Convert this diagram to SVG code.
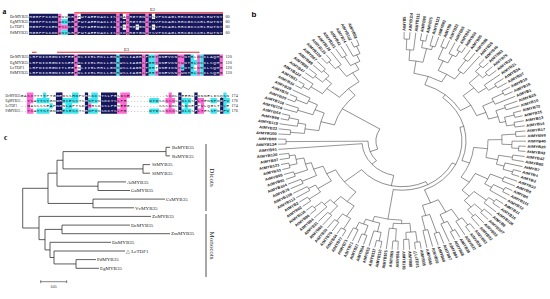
<svg xmlns="http://www.w3.org/2000/svg" xmlns:xlink="http://www.w3.org/1999/xlink" width="550" height="299" viewBox="0 0 550 299">
<style>
.pl{font:bold 7.5px "Liberation Serif",serif;fill:#000}
.plb{font:bold 8px "Liberation Sans",sans-serif;fill:#000}
.nm{font:4.2px "Liberation Serif",serif;fill:#222}
.nm3{font:3.4px "Liberation Serif",serif;fill:#222}
.sq text{font:4.4px "Liberation Mono",monospace;letter-spacing:.593px}
.sq3 text{font:4.4px "Liberation Mono",monospace;letter-spacing:.58px}
.num{font:4.2px "Liberation Serif",serif;fill:#222}
.el{font:4.5px "Liberation Serif",serif;fill:#222}
.red{stroke:#e3262e;stroke-width:1.1;fill:none}
.pk{fill:#ff6ad5}
.cy{fill:#3ee6f0}
.nv{fill:#16165c}
.br line,.br circle{fill:none;stroke:#262626;stroke-width:.5}
.t{font:bold 4.2px "Liberation Sans",sans-serif;fill:#1a1a1a}
.l{text-anchor:end}
.ct{fill:none;stroke:#333;stroke-width:.8}
.cl{font:5px "Liberation Serif",serif;fill:#222}
.grp{font:7px "Liberation Serif",serif;fill:#222}
</style>
<defs>
<g id="s1" class="sq">
<text x="29.3" y="17.7">MGRPPCCDKENVKRGPWTAEEDAKLISYIAQHGTGNWTSVPKKAGLRRCGKSCRLRWTNY</text>
<text x="29.3" y="23">MGRPPCCDKANVKRGPWTAEEDAKLISYIEQHGTGNWTSVPKKAGLRRCGKSCRLRWTNY</text>
<text x="29.3" y="28.3">MGRPPCCEKESLKRGPWTAEEDAKLIAYISKHGTGNWTSVPKKAGLRRCGKSCRLRWTNY</text>
<text x="29.3" y="33.6">MGRPPCCDKANVKRGPWTAEEDAKLISYIDQHGTGNWTSVPKKAGLRRCGKSCRLRWTNY</text>
</g>
<g id="s2" class="sq">
<text x="29.3" y="58.4">LRPDIKRGNISPEEEDLIIRLHKLLGNRWSLIAGRLPGRTDNEVKNHWNTRLKKKLAQMG</text>
<text x="29.3" y="63.7">LRPDIKRGNISSEEEDLIIRLHKLLGNRWSLIAGRLPGRTDNEVKNYWNTRLKKKLSQMG</text>
<text x="29.3" y="69">LRPDIKRGNITLEEEDLIIRLHRLLGNRWSLIAGRLPGRTDNEIKNYWNTRLKRKLSQMG</text>
<text x="29.3" y="74.3">LRPDIKRGNISSEEEDLIIRLHKLLGNRWSLIAGRLPGRTDNEVKNYWNTRLKKKLSQMG</text>
</g>
<g id="s3" class="sq3">
<text x="20.79" y="96.5">GASITTTTPTGGEDSSHDPVRSKCSTSLPRSDSE...........SSDLCEERLPDNNELDSQSN</text>
<text x="20.79" y="101.8">..TSATTSTGNGRGSESSTSHDPVKSKCTSLPR.......DTDSCSSSSEDLCSFLTENNPDGFV</text>
<text x="20.79" y="107.1">..GASSSSEAPNGNLAPTSDPHRSKCSLPRDEEG.........SSSCDLSSNNEFPVLQGSTSLE</text>
<text x="20.79" y="112.4">..TSATTSTGNGRESESSTSHDPVKSKCTSLPR.......DTDSCSSSSEDLCSFLTESSPDGFV</text>
</g>
<clipPath id="cp1"><use xlink:href="#nv1"/></clipPath>
<clipPath id="cp2"><use xlink:href="#nv2"/></clipPath>
<clipPath id="cp3"><use xlink:href="#nv3"/></clipPath>
</defs>
<rect width="550" height="299" fill="#fff"/>

<g id="panel-a">
<text class="pl" x="2.5" y="14">a</text>
<g id="motif-labels">
<text class="el" x="150" y="11.3">E2</text>
<text class="el" x="124" y="50.5">E3</text>
<path class="red" d="M74.3 12.9H223M32 52.3H36.5M57 52.3H199.5"/>
</g>
<g id="block1">
<path class="pk" d="M58.097 13.8h3.233v21.2h-3.233zM61.33 24.4h6.466v5.3h-6.466zM74.262 13.8h3.233v21.2h-3.233zM116.291 13.8h3.233v21.2h-3.233zM125.99 13.8h3.233v21.2h-3.233zM145.388 13.8h3.233v21.2h-3.233z"/>
<path class="cy" d="M61.33 19.1h6.466v5.3h-6.466zM61.33 29.7h6.466v5.3h-6.466z"/>
<use xlink:href="#s1" fill="#111"/>
<path id="nv1" class="nv" fill-rule="evenodd" clip-rule="evenodd" d="M29 13.8h193.98v21.2h-193.98zM58.097 13.8h3.233v21.2h-3.233zM61.33 13.8h6.466v21.2h-6.466zM74.262 13.8h3.233v21.2h-3.233zM77.495 13.8h3.233v5.3h-3.233zM116.291 13.8h3.233v21.2h-3.233zM122.757 13.8h3.233v5.3h-3.233zM122.757 24.4h3.233v5.3h-3.233zM125.99 13.8h3.233v21.2h-3.233zM135.689 24.4h3.233v5.3h-3.233zM145.388 13.8h3.233v21.2h-3.233zM151.854 13.8h3.233v5.3h-3.233zM151.854 24.4h3.233v5.3h-3.233z"/>
<g clip-path="url(#cp1)"><use xlink:href="#s1" fill="#fff"/></g>
<text class="nm" x="10" y="17.7">DcMYB35</text>
<text class="nm" x="10" y="23">EgMYB35</text>
<text class="nm" x="10" y="28.3">LcTDF1</text>
<text class="nm" x="10" y="33.6">PdMYB35</text>
<text class="num" x="225.5" y="17.7">60</text>
<text class="num" x="225.5" y="23">60</text>
<text class="num" x="225.5" y="28.3">60</text>
<text class="num" x="225.5" y="33.6">60</text>
</g>
<g id="block2">
<path class="pk" d="M74.262 54.5h3.233v21.2h-3.233zM142.155 54.5h3.233v21.2h-3.233zM155.087 54.5h3.233v10.6h-3.233zM155.087 70.4h3.233v5.3h-3.233zM177.718 54.5h3.233v21.2h-3.233zM180.951 54.5h3.233v10.6h-3.233zM197.116 54.5h3.233v21.2h-3.233zM219.747 54.5h3.233v21.2h-3.233z"/>
<path class="cy" d="M116.291 54.5h3.233v21.2h-3.233zM148.621 54.5h6.466v21.2h-6.466zM180.951 65.1h3.233v5.3h-3.233zM190.65 54.5h3.233v21.2h-3.233zM193.883 59.8h3.233v5.3h-3.233zM193.883 70.4h3.233v5.3h-3.233zM200.349 54.5h3.233v21.2h-3.233z"/>
<use xlink:href="#s2" fill="#111"/>
<path id="nv2" class="nv" fill-rule="evenodd" clip-rule="evenodd" d="M29 54.5h193.98v21.2h-193.98zM74.262 54.5h3.233v21.2h-3.233zM77.495 65.1h3.233v5.3h-3.233zM116.291 54.5h3.233v21.2h-3.233zM142.155 54.5h3.233v21.2h-3.233zM148.621 54.5h9.699v21.2h-9.699zM177.718 54.5h3.233v21.2h-3.233zM180.951 54.5h3.233v15.9h-3.233zM190.65 54.5h12.932v21.2h-12.932zM219.747 54.5h3.233v21.2h-3.233z"/>
<g clip-path="url(#cp2)"><use xlink:href="#s2" fill="#fff"/></g>
<text class="nm" x="10" y="58.4">DcMYB35</text>
<text class="nm" x="10" y="63.7">EgMYB35</text>
<text class="nm" x="10" y="69">LcTDF1</text>
<text class="nm" x="10" y="74.3">PdMYB35</text>
<text class="num" x="225.5" y="58.4">120</text>
<text class="num" x="225.5" y="63.7">120</text>
<text class="num" x="225.5" y="69">120</text>
<text class="num" x="225.5" y="74.3">120</text>
</g>
<g id="block3">
<path class="pk" d="M26.94 92.6h6.44v5.3h-6.44zM59.14 92.6h3.22v5.3h-3.22zM120.32 92.6h9.66v5.3h-9.66zM168.62 92.6h3.22v5.3h-3.22zM26.94 97.9h6.44v5.3h-6.44zM59.14 97.9h3.22v5.3h-3.22zM117.1 97.9h9.66v5.3h-9.66zM165.4 97.9h9.66v5.3h-9.66zM197.6 97.9h6.44v5.3h-6.44zM26.94 103.2h3.22v5.3h-3.22zM88.12 103.2h3.22v5.3h-3.22zM120.32 103.2h6.44v5.3h-6.44zM168.62 103.2h3.22v5.3h-3.22zM200.82 103.2h3.22v5.3h-3.22zM26.94 108.5h6.44v5.3h-6.44zM59.14 108.5h3.22v5.3h-3.22zM117.1 108.5h9.66v5.3h-9.66zM165.4 108.5h9.66v5.3h-9.66zM197.6 108.5h6.44v5.3h-6.44z"/>
<path class="cy" d="M43.04 92.6h3.22v5.3h-3.22zM72.02 92.6h6.44v5.3h-6.44zM91.34 92.6h6.44v5.3h-6.44zM223.36 92.6h3.22v5.3h-3.22zM36.6 97.9h12.88v5.3h-12.88zM62.36 97.9h16.1v5.3h-16.1zM88.12 97.9h9.66v5.3h-9.66zM149.3 97.9h9.66v5.3h-9.66zM181.5 97.9h9.66v5.3h-9.66zM210.48 97.9h6.44v5.3h-6.44zM223.36 97.9h6.44v5.3h-6.44zM49.48 103.2h3.22v5.3h-3.22zM65.58 103.2h6.44v5.3h-6.44zM184.72 103.2h3.22v5.3h-3.22zM223.36 103.2h3.22v5.3h-3.22zM36.6 108.5h12.88v5.3h-12.88zM62.36 108.5h16.1v5.3h-16.1zM88.12 108.5h9.66v5.3h-9.66zM149.3 108.5h9.66v5.3h-9.66zM181.5 108.5h9.66v5.3h-9.66zM210.48 108.5h6.44v5.3h-6.44zM223.36 108.5h6.44v5.3h-6.44z"/>
<use xlink:href="#s3" fill="#111"/>
<path id="nv3" class="nv" d="M55.92 92.6h6.44v21.2h-6.44zM84.9 92.6h3.22v21.2h-3.22zM101 92.6h6.44v21.2h-6.44zM107.44 92.6h9.66v21.2h-9.66zM178.28 92.6h3.22v21.2h-3.22zM194.38 92.6h3.22v21.2h-3.22zM220.14 97.9h3.22v15.9h-3.22z"/>
<g clip-path="url(#cp3)"><use xlink:href="#s3" fill="#fff"/></g>
<text class="nm3" x="5.5" y="96.5">DcMYB35</text>
<text class="nm3" x="5.5" y="101.8">EgMYB35</text>
<text class="nm3" x="5.5" y="107.1">LcTDF1</text>
<text class="nm3" x="5.5" y="112.4">PdMYB35</text>
<text class="num" x="231.5" y="96.5">174</text>
<text class="num" x="231.5" y="101.8">176</text>
<text class="num" x="231.5" y="107.1">174</text>
<text class="num" x="231.5" y="112.4">176</text>
</g>
</g>

<g id="panel-b">
<text class="plb" x="251.5" y="17">b</text>
<g transform="translate(402 141) scale(1 .879)">
<g id="b-connectors" class="br">
<circle r="116" transform="rotate(-89)" stroke-dasharray="5.466 999"/>
<line x1="116" x2="124" transform="rotate(-89)"/>
<line x1="116" x2="124" transform="rotate(-86.3)"/>
<circle r="104" transform="rotate(-87.65)" stroke-dasharray="7.351 999"/>
<line x1="104" x2="116" transform="rotate(-87.65)"/>
<line x1="104" x2="124" transform="rotate(-83.6)"/>
<circle r="116" transform="rotate(-80.9)" stroke-dasharray="5.466 999"/>
<line x1="116" x2="124" transform="rotate(-80.9)"/>
<line x1="116" x2="124" transform="rotate(-78.2)"/>
<circle r="112" transform="rotate(-75.5)" stroke-dasharray="5.278 999"/>
<line x1="112" x2="124" transform="rotate(-75.5)"/>
<line x1="112" x2="124" transform="rotate(-72.8)"/>
<circle r="108" transform="rotate(-79.55)" stroke-dasharray="10.179 999"/>
<line x1="108" x2="116" transform="rotate(-79.55)"/>
<line x1="108" x2="112" transform="rotate(-74.15)"/>
<circle r="92" transform="rotate(-85.625)" stroke-dasharray="14.09 999"/>
<line x1="92" x2="104" transform="rotate(-85.625)"/>
<line x1="92" x2="108" transform="rotate(-76.85)"/>
<circle r="114" transform="rotate(-70.1)" stroke-dasharray="5.372 999"/>
<line x1="114" x2="124" transform="rotate(-70.1)"/>
<line x1="114" x2="124" transform="rotate(-67.4)"/>
<circle r="117" transform="rotate(-62)" stroke-dasharray="5.514 999"/>
<line x1="117" x2="124" transform="rotate(-62)"/>
<line x1="117" x2="124" transform="rotate(-59.3)"/>
<circle r="110" transform="rotate(-64.7)" stroke-dasharray="7.775 999"/>
<line x1="110" x2="124" transform="rotate(-64.7)"/>
<line x1="110" x2="117" transform="rotate(-60.65)"/>
<circle r="100" transform="rotate(-68.75)" stroke-dasharray="10.603 999"/>
<line x1="100" x2="114" transform="rotate(-68.75)"/>
<line x1="100" x2="110" transform="rotate(-62.675)"/>
<circle r="112" transform="rotate(-56.6)" stroke-dasharray="5.278 999"/>
<line x1="112" x2="124" transform="rotate(-56.6)"/>
<line x1="112" x2="124" transform="rotate(-53.9)"/>
<circle r="98" transform="rotate(-55.25)" stroke-dasharray="6.927 999"/>
<line x1="98" x2="112" transform="rotate(-55.25)"/>
<line x1="98" x2="124" transform="rotate(-51.2)"/>
<circle r="88" transform="rotate(-65.713)" stroke-dasharray="19.179 999"/>
<line x1="88" x2="100" transform="rotate(-65.713)"/>
<line x1="88" x2="98" transform="rotate(-53.225)"/>
<circle r="78" transform="rotate(-81.238)" stroke-dasharray="29.635 999"/>
<line x1="78" x2="92" transform="rotate(-81.238)"/>
<line x1="78" x2="88" transform="rotate(-59.469)"/>
<circle r="116" transform="rotate(-48.5)" stroke-dasharray="5.466 999"/>
<line x1="116" x2="124" transform="rotate(-48.5)"/>
<line x1="116" x2="124" transform="rotate(-45.8)"/>
<circle r="114" transform="rotate(-43.1)" stroke-dasharray="5.372 999"/>
<line x1="114" x2="124" transform="rotate(-43.1)"/>
<line x1="114" x2="124" transform="rotate(-40.4)"/>
<circle r="108" transform="rotate(-47.15)" stroke-dasharray="10.179 999"/>
<line x1="108" x2="116" transform="rotate(-47.15)"/>
<line x1="108" x2="114" transform="rotate(-41.75)"/>
<circle r="113" transform="rotate(-35)" stroke-dasharray="5.325 999"/>
<line x1="113" x2="124" transform="rotate(-35)"/>
<line x1="113" x2="124" transform="rotate(-32.3)"/>
<circle r="104" transform="rotate(-37.7)" stroke-dasharray="7.351 999"/>
<line x1="104" x2="124" transform="rotate(-37.7)"/>
<line x1="104" x2="113" transform="rotate(-33.65)"/>
<circle r="94" transform="rotate(-44.45)" stroke-dasharray="14.396 999"/>
<line x1="94" x2="108" transform="rotate(-44.45)"/>
<line x1="94" x2="104" transform="rotate(-35.675)"/>
<circle r="115" transform="rotate(-29.6)" stroke-dasharray="5.419 999"/>
<line x1="115" x2="124" transform="rotate(-29.6)"/>
<line x1="115" x2="124" transform="rotate(-26.9)"/>
<circle r="102" transform="rotate(-28.25)" stroke-dasharray="7.21 999"/>
<line x1="102" x2="115" transform="rotate(-28.25)"/>
<line x1="102" x2="124" transform="rotate(-24.2)"/>
<circle r="110" transform="rotate(-21.5)" stroke-dasharray="5.184 999"/>
<line x1="110" x2="124" transform="rotate(-21.5)"/>
<line x1="110" x2="124" transform="rotate(-18.8)"/>
<circle r="116" transform="rotate(-16.1)" stroke-dasharray="5.466 999"/>
<line x1="116" x2="124" transform="rotate(-16.1)"/>
<line x1="116" x2="124" transform="rotate(-13.4)"/>
<circle r="114" transform="rotate(-10.7)" stroke-dasharray="5.372 999"/>
<line x1="114" x2="124" transform="rotate(-10.7)"/>
<line x1="114" x2="124" transform="rotate(-8)"/>
<circle r="106" transform="rotate(-14.75)" stroke-dasharray="9.99 999"/>
<line x1="106" x2="116" transform="rotate(-14.75)"/>
<line x1="106" x2="114" transform="rotate(-9.35)"/>
<circle r="100" transform="rotate(-20.15)" stroke-dasharray="14.137 999"/>
<line x1="100" x2="110" transform="rotate(-20.15)"/>
<line x1="100" x2="106" transform="rotate(-12.05)"/>
<circle r="90" transform="rotate(-26.225)" stroke-dasharray="15.904 999"/>
<line x1="90" x2="102" transform="rotate(-26.225)"/>
<line x1="90" x2="100" transform="rotate(-16.1)"/>
<circle r="80" transform="rotate(-40.063)" stroke-dasharray="26.389 999"/>
<line x1="80" x2="94" transform="rotate(-40.063)"/>
<line x1="80" x2="90" transform="rotate(-21.163)"/>
<circle r="68" transform="rotate(-70.353)" stroke-dasharray="47.165 999"/>
<line x1="68" x2="78" transform="rotate(-70.353)"/>
<line x1="68" x2="80" transform="rotate(-30.613)"/>
<circle r="114" transform="rotate(-5.3)" stroke-dasharray="5.372 999"/>
<line x1="114" x2="124" transform="rotate(-5.3)"/>
<line x1="114" x2="124" transform="rotate(-2.6)"/>
<circle r="117" transform="rotate(2.8)" stroke-dasharray="5.514 999"/>
<line x1="117" x2="124" transform="rotate(2.8)"/>
<line x1="117" x2="124" transform="rotate(5.5)"/>
<circle r="110" transform="rotate(0.1)" stroke-dasharray="7.775 999"/>
<line x1="110" x2="124" transform="rotate(0.1)"/>
<line x1="110" x2="117" transform="rotate(4.15)"/>
<circle r="100" transform="rotate(-3.95)" stroke-dasharray="10.603 999"/>
<line x1="100" x2="114" transform="rotate(-3.95)"/>
<line x1="100" x2="110" transform="rotate(2.125)"/>
<circle r="112" transform="rotate(8.2)" stroke-dasharray="5.278 999"/>
<line x1="112" x2="124" transform="rotate(8.2)"/>
<line x1="112" x2="124" transform="rotate(10.9)"/>
<circle r="116" transform="rotate(16.3)" stroke-dasharray="5.466 999"/>
<line x1="116" x2="124" transform="rotate(16.3)"/>
<line x1="116" x2="124" transform="rotate(19)"/>
<circle r="106" transform="rotate(13.6)" stroke-dasharray="7.493 999"/>
<line x1="106" x2="124" transform="rotate(13.6)"/>
<line x1="106" x2="116" transform="rotate(17.65)"/>
<circle r="98" transform="rotate(9.55)" stroke-dasharray="10.391 999"/>
<line x1="98" x2="112" transform="rotate(9.55)"/>
<line x1="98" x2="106" transform="rotate(15.625)"/>
<circle r="86" transform="rotate(-0.913)" stroke-dasharray="20.263 999"/>
<line x1="86" x2="100" transform="rotate(-0.913)"/>
<line x1="86" x2="98" transform="rotate(12.588)"/>
<circle r="110" transform="rotate(21.7)" stroke-dasharray="5.184 999"/>
<line x1="110" x2="124" transform="rotate(21.7)"/>
<line x1="110" x2="124" transform="rotate(24.4)"/>
<circle r="116" transform="rotate(27.1)" stroke-dasharray="5.466 999"/>
<line x1="116" x2="124" transform="rotate(27.1)"/>
<line x1="116" x2="124" transform="rotate(29.8)"/>
<circle r="104" transform="rotate(28.45)" stroke-dasharray="7.351 999"/>
<line x1="104" x2="116" transform="rotate(28.45)"/>
<line x1="104" x2="124" transform="rotate(32.5)"/>
<circle r="96" transform="rotate(23.05)" stroke-dasharray="12.441 999"/>
<line x1="96" x2="110" transform="rotate(23.05)"/>
<line x1="96" x2="104" transform="rotate(30.475)"/>
<circle r="115" transform="rotate(35.2)" stroke-dasharray="5.419 999"/>
<line x1="115" x2="124" transform="rotate(35.2)"/>
<line x1="115" x2="124" transform="rotate(37.9)"/>
<circle r="108" transform="rotate(36.55)" stroke-dasharray="7.634 999"/>
<line x1="108" x2="115" transform="rotate(36.55)"/>
<line x1="108" x2="124" transform="rotate(40.6)"/>
<circle r="113" transform="rotate(43.3)" stroke-dasharray="5.325 999"/>
<line x1="113" x2="124" transform="rotate(43.3)"/>
<line x1="113" x2="124" transform="rotate(46)"/>
<circle r="111" transform="rotate(48.7)" stroke-dasharray="5.231 999"/>
<line x1="111" x2="124" transform="rotate(48.7)"/>
<line x1="111" x2="124" transform="rotate(51.4)"/>
<circle r="102" transform="rotate(44.65)" stroke-dasharray="9.613 999"/>
<line x1="102" x2="113" transform="rotate(44.65)"/>
<line x1="102" x2="111" transform="rotate(50.05)"/>
<circle r="92" transform="rotate(38.575)" stroke-dasharray="14.09 999"/>
<line x1="92" x2="108" transform="rotate(38.575)"/>
<line x1="92" x2="102" transform="rotate(47.35)"/>
<circle r="82" transform="rotate(26.763)" stroke-dasharray="23.185 999"/>
<line x1="82" x2="96" transform="rotate(26.763)"/>
<line x1="82" x2="92" transform="rotate(42.963)"/>
<circle r="72" transform="rotate(5.838)" stroke-dasharray="36.474 999"/>
<line x1="72" x2="86" transform="rotate(5.838)"/>
<line x1="72" x2="82" transform="rotate(34.863)"/>
<circle r="116" transform="rotate(54.1)" stroke-dasharray="5.466 999"/>
<line x1="116" x2="124" transform="rotate(54.1)"/>
<line x1="116" x2="124" transform="rotate(56.8)"/>
<circle r="106" transform="rotate(55.45)" stroke-dasharray="7.493 999"/>
<line x1="106" x2="116" transform="rotate(55.45)"/>
<line x1="106" x2="124" transform="rotate(59.5)"/>
<circle r="114" transform="rotate(62.2)" stroke-dasharray="5.372 999"/>
<line x1="114" x2="124" transform="rotate(62.2)"/>
<line x1="114" x2="124" transform="rotate(64.9)"/>
<circle r="102" transform="rotate(63.55)" stroke-dasharray="7.21 999"/>
<line x1="102" x2="114" transform="rotate(63.55)"/>
<line x1="102" x2="124" transform="rotate(67.6)"/>
<circle r="92" transform="rotate(57.475)" stroke-dasharray="13.006 999"/>
<line x1="92" x2="106" transform="rotate(57.475)"/>
<line x1="92" x2="102" transform="rotate(65.575)"/>
<circle r="110" transform="rotate(70.3)" stroke-dasharray="5.184 999"/>
<line x1="110" x2="124" transform="rotate(70.3)"/>
<line x1="110" x2="124" transform="rotate(73)"/>
<circle r="104" transform="rotate(75.7)" stroke-dasharray="4.901 999"/>
<line x1="104" x2="124" transform="rotate(75.7)"/>
<line x1="104" x2="124" transform="rotate(78.4)"/>
<circle r="88" transform="rotate(71.65)" stroke-dasharray="8.294 999"/>
<line x1="88" x2="110" transform="rotate(71.65)"/>
<line x1="88" x2="104" transform="rotate(77.05)"/>
<circle r="76" transform="rotate(61.525)" stroke-dasharray="17.012 999"/>
<line x1="76" x2="92" transform="rotate(61.525)"/>
<line x1="76" x2="88" transform="rotate(74.35)"/>
<circle r="116" transform="rotate(81.1)" stroke-dasharray="5.466 999"/>
<line x1="116" x2="124" transform="rotate(81.1)"/>
<line x1="116" x2="124" transform="rotate(83.8)"/>
<circle r="112" transform="rotate(86.5)" stroke-dasharray="5.278 999"/>
<line x1="112" x2="124" transform="rotate(86.5)"/>
<line x1="112" x2="124" transform="rotate(89.2)"/>
<circle r="104" transform="rotate(82.45)" stroke-dasharray="9.802 999"/>
<line x1="104" x2="116" transform="rotate(82.45)"/>
<line x1="104" x2="112" transform="rotate(87.85)"/>
<circle r="114" transform="rotate(91.9)" stroke-dasharray="5.372 999"/>
<line x1="114" x2="124" transform="rotate(91.9)"/>
<line x1="114" x2="124" transform="rotate(94.6)"/>
<circle r="100" transform="rotate(93.25)" stroke-dasharray="7.069 999"/>
<line x1="100" x2="114" transform="rotate(93.25)"/>
<line x1="100" x2="124" transform="rotate(97.3)"/>
<circle r="94" transform="rotate(85.15)" stroke-dasharray="16.611 999"/>
<line x1="94" x2="104" transform="rotate(85.15)"/>
<line x1="94" x2="100" transform="rotate(95.275)"/>
<circle r="116" transform="rotate(100)" stroke-dasharray="5.466 999"/>
<line x1="116" x2="124" transform="rotate(100)"/>
<line x1="116" x2="124" transform="rotate(102.7)"/>
<circle r="106" transform="rotate(101.35)" stroke-dasharray="7.493 999"/>
<line x1="106" x2="116" transform="rotate(101.35)"/>
<line x1="106" x2="124" transform="rotate(105.4)"/>
<circle r="113" transform="rotate(108.1)" stroke-dasharray="5.325 999"/>
<line x1="113" x2="124" transform="rotate(108.1)"/>
<line x1="113" x2="124" transform="rotate(110.8)"/>
<circle r="110" transform="rotate(113.5)" stroke-dasharray="5.184 999"/>
<line x1="110" x2="124" transform="rotate(113.5)"/>
<line x1="110" x2="124" transform="rotate(116.2)"/>
<circle r="102" transform="rotate(109.45)" stroke-dasharray="9.613 999"/>
<line x1="102" x2="113" transform="rotate(109.45)"/>
<line x1="102" x2="110" transform="rotate(114.85)"/>
<circle r="96" transform="rotate(103.375)" stroke-dasharray="14.703 999"/>
<line x1="96" x2="106" transform="rotate(103.375)"/>
<line x1="96" x2="102" transform="rotate(112.15)"/>
<circle r="90" transform="rotate(90.213)" stroke-dasharray="27.567 999"/>
<line x1="90" x2="94" transform="rotate(90.213)"/>
<line x1="90" x2="96" transform="rotate(107.763)"/>
<circle r="116" transform="rotate(118.9)" stroke-dasharray="5.466 999"/>
<line x1="116" x2="124" transform="rotate(118.9)"/>
<line x1="116" x2="124" transform="rotate(121.6)"/>
<circle r="112" transform="rotate(124.3)" stroke-dasharray="5.278 999"/>
<line x1="112" x2="124" transform="rotate(124.3)"/>
<line x1="112" x2="124" transform="rotate(127)"/>
<circle r="102" transform="rotate(120.25)" stroke-dasharray="9.613 999"/>
<line x1="102" x2="116" transform="rotate(120.25)"/>
<line x1="102" x2="112" transform="rotate(125.65)"/>
<circle r="110" transform="rotate(129.7)" stroke-dasharray="5.184 999"/>
<line x1="110" x2="124" transform="rotate(129.7)"/>
<line x1="110" x2="124" transform="rotate(132.4)"/>
<circle r="116" transform="rotate(137.8)" stroke-dasharray="5.466 999"/>
<line x1="116" x2="124" transform="rotate(137.8)"/>
<line x1="116" x2="124" transform="rotate(140.5)"/>
<circle r="106" transform="rotate(135.1)" stroke-dasharray="7.493 999"/>
<line x1="106" x2="124" transform="rotate(135.1)"/>
<line x1="106" x2="116" transform="rotate(139.15)"/>
<circle r="98" transform="rotate(131.05)" stroke-dasharray="10.391 999"/>
<line x1="98" x2="110" transform="rotate(131.05)"/>
<line x1="98" x2="106" transform="rotate(137.125)"/>
<circle r="88" transform="rotate(122.95)" stroke-dasharray="17.106 999"/>
<line x1="88" x2="102" transform="rotate(122.95)"/>
<line x1="88" x2="98" transform="rotate(134.088)"/>
<circle r="114" transform="rotate(143.2)" stroke-dasharray="5.372 999"/>
<line x1="114" x2="124" transform="rotate(143.2)"/>
<line x1="114" x2="124" transform="rotate(145.9)"/>
<circle r="108" transform="rotate(148.6)" stroke-dasharray="5.089 999"/>
<line x1="108" x2="124" transform="rotate(148.6)"/>
<line x1="108" x2="124" transform="rotate(151.3)"/>
<circle r="100" transform="rotate(144.55)" stroke-dasharray="9.425 999"/>
<line x1="100" x2="114" transform="rotate(144.55)"/>
<line x1="100" x2="108" transform="rotate(149.95)"/>
<circle r="110" transform="rotate(154)" stroke-dasharray="5.184 999"/>
<line x1="110" x2="124" transform="rotate(154)"/>
<line x1="110" x2="124" transform="rotate(156.7)"/>
<circle r="114" transform="rotate(159.4)" stroke-dasharray="5.372 999"/>
<line x1="114" x2="124" transform="rotate(159.4)"/>
<line x1="114" x2="124" transform="rotate(162.1)"/>
<circle r="116" transform="rotate(164.8)" stroke-dasharray="5.466 999"/>
<line x1="116" x2="124" transform="rotate(164.8)"/>
<line x1="116" x2="124" transform="rotate(167.5)"/>
<circle r="114" transform="rotate(170.2)" stroke-dasharray="5.372 999"/>
<line x1="114" x2="124" transform="rotate(170.2)"/>
<line x1="114" x2="124" transform="rotate(172.9)"/>
<circle r="108" transform="rotate(166.15)" stroke-dasharray="10.179 999"/>
<line x1="108" x2="116" transform="rotate(166.15)"/>
<line x1="108" x2="114" transform="rotate(171.55)"/>
<circle r="100" transform="rotate(160.75)" stroke-dasharray="14.137 999"/>
<line x1="100" x2="114" transform="rotate(160.75)"/>
<line x1="100" x2="108" transform="rotate(168.85)"/>
<circle r="94" transform="rotate(155.35)" stroke-dasharray="15.504 999"/>
<line x1="94" x2="110" transform="rotate(155.35)"/>
<line x1="94" x2="100" transform="rotate(164.8)"/>
<circle r="84" transform="rotate(147.25)" stroke-dasharray="18.802 999"/>
<line x1="84" x2="100" transform="rotate(147.25)"/>
<line x1="84" x2="94" transform="rotate(160.075)"/>
<circle r="74" transform="rotate(128.519)" stroke-dasharray="32.474 999"/>
<line x1="74" x2="88" transform="rotate(128.519)"/>
<line x1="74" x2="84" transform="rotate(153.663)"/>
<circle r="116" transform="rotate(178.3)" stroke-dasharray="5.466 999"/>
<line x1="116" x2="124" transform="rotate(178.3)"/>
<line x1="116" x2="124" transform="rotate(181)"/>
<circle r="112" transform="rotate(183.7)" stroke-dasharray="5.278 999"/>
<line x1="112" x2="124" transform="rotate(183.7)"/>
<line x1="112" x2="124" transform="rotate(186.4)"/>
<circle r="116" transform="rotate(191.8)" stroke-dasharray="5.466 999"/>
<line x1="116" x2="124" transform="rotate(191.8)"/>
<line x1="116" x2="124" transform="rotate(194.5)"/>
<circle r="106" transform="rotate(189.1)" stroke-dasharray="7.493 999"/>
<line x1="106" x2="124" transform="rotate(189.1)"/>
<line x1="106" x2="116" transform="rotate(193.15)"/>
<circle r="98" transform="rotate(185.05)" stroke-dasharray="10.391 999"/>
<line x1="98" x2="112" transform="rotate(185.05)"/>
<line x1="98" x2="106" transform="rotate(191.125)"/>
<circle r="110" transform="rotate(197.2)" stroke-dasharray="5.184 999"/>
<line x1="110" x2="124" transform="rotate(197.2)"/>
<line x1="110" x2="124" transform="rotate(199.9)"/>
<circle r="116" transform="rotate(202.6)" stroke-dasharray="5.466 999"/>
<line x1="116" x2="124" transform="rotate(202.6)"/>
<line x1="116" x2="124" transform="rotate(205.3)"/>
<circle r="104" transform="rotate(203.95)" stroke-dasharray="7.351 999"/>
<line x1="104" x2="116" transform="rotate(203.95)"/>
<line x1="104" x2="124" transform="rotate(208)"/>
<circle r="94" transform="rotate(198.55)" stroke-dasharray="12.182 999"/>
<line x1="94" x2="110" transform="rotate(198.55)"/>
<line x1="94" x2="104" transform="rotate(205.975)"/>
<circle r="84" transform="rotate(188.088)" stroke-dasharray="20.782 999"/>
<line x1="84" x2="98" transform="rotate(188.088)"/>
<line x1="84" x2="94" transform="rotate(202.263)"/>
<circle r="117" transform="rotate(210.7)" stroke-dasharray="5.514 999"/>
<line x1="117" x2="124" transform="rotate(210.7)"/>
<line x1="117" x2="124" transform="rotate(213.4)"/>
<circle r="110" transform="rotate(212.05)" stroke-dasharray="7.775 999"/>
<line x1="110" x2="117" transform="rotate(212.05)"/>
<line x1="110" x2="124" transform="rotate(216.1)"/>
<circle r="114" transform="rotate(218.8)" stroke-dasharray="5.372 999"/>
<line x1="114" x2="124" transform="rotate(218.8)"/>
<line x1="114" x2="124" transform="rotate(221.5)"/>
<circle r="112" transform="rotate(224.2)" stroke-dasharray="5.278 999"/>
<line x1="112" x2="124" transform="rotate(224.2)"/>
<line x1="112" x2="124" transform="rotate(226.9)"/>
<circle r="104" transform="rotate(220.15)" stroke-dasharray="9.802 999"/>
<line x1="104" x2="114" transform="rotate(220.15)"/>
<line x1="104" x2="112" transform="rotate(225.55)"/>
<circle r="96" transform="rotate(214.075)" stroke-dasharray="14.703 999"/>
<line x1="96" x2="110" transform="rotate(214.075)"/>
<line x1="96" x2="104" transform="rotate(222.85)"/>
<circle r="116" transform="rotate(229.6)" stroke-dasharray="5.466 999"/>
<line x1="116" x2="124" transform="rotate(229.6)"/>
<line x1="116" x2="124" transform="rotate(232.3)"/>
<circle r="106" transform="rotate(230.95)" stroke-dasharray="7.493 999"/>
<line x1="106" x2="116" transform="rotate(230.95)"/>
<line x1="106" x2="124" transform="rotate(235)"/>
<circle r="112" transform="rotate(237.7)" stroke-dasharray="5.278 999"/>
<line x1="112" x2="124" transform="rotate(237.7)"/>
<line x1="112" x2="124" transform="rotate(240.4)"/>
<circle r="117" transform="rotate(245.8)" stroke-dasharray="5.514 999"/>
<line x1="117" x2="124" transform="rotate(245.8)"/>
<line x1="117" x2="124" transform="rotate(248.5)"/>
<circle r="108" transform="rotate(243.1)" stroke-dasharray="7.634 999"/>
<line x1="108" x2="124" transform="rotate(243.1)"/>
<line x1="108" x2="117" transform="rotate(247.15)"/>
<circle r="100" transform="rotate(239.05)" stroke-dasharray="10.603 999"/>
<line x1="100" x2="112" transform="rotate(239.05)"/>
<line x1="100" x2="108" transform="rotate(245.125)"/>
<circle r="92" transform="rotate(232.975)" stroke-dasharray="14.632 999"/>
<line x1="92" x2="106" transform="rotate(232.975)"/>
<line x1="92" x2="100" transform="rotate(242.088)"/>
<circle r="80" transform="rotate(218.463)" stroke-dasharray="26.625 999"/>
<line x1="80" x2="96" transform="rotate(218.463)"/>
<line x1="80" x2="92" transform="rotate(237.531)"/>
<circle r="70" transform="rotate(195.175)" stroke-dasharray="40.103 999"/>
<line x1="70" x2="84" transform="rotate(195.175)"/>
<line x1="70" x2="80" transform="rotate(227.997)"/>
<circle r="64" transform="rotate(-50.483)" stroke-dasharray="79.121 999"/>
<line x1="64" x2="68" transform="rotate(-50.483)"/>
<line x1="64" x2="72" transform="rotate(20.35)"/>
<circle r="60" transform="rotate(-15.067)" stroke-dasharray="86.923 999"/>
<line x1="60" x2="64" transform="rotate(-15.067)"/>
<line x1="60" x2="76" transform="rotate(67.938)"/>
<circle r="56" transform="rotate(26.436)" stroke-dasharray="70.912 999"/>
<line x1="56" x2="60" transform="rotate(26.436)"/>
<line x1="56" x2="90" transform="rotate(98.988)"/>
<circle r="52" transform="rotate(62.712)" stroke-dasharray="71.135 999"/>
<line x1="52" x2="56" transform="rotate(62.712)"/>
<line x1="52" x2="74" transform="rotate(141.091)"/>
<circle r="40" transform="rotate(101.901)" stroke-dasharray="51.452 999"/>
<line x1="40" x2="52" transform="rotate(101.901)"/>
<line x1="40" x2="124" transform="rotate(175.6)"/>
<circle r="34" transform="rotate(138.751)" stroke-dasharray="24.27 999"/>
<line x1="34" x2="40" transform="rotate(138.751)"/>
<line x1="34" x2="116" transform="rotate(179.65)"/>
<circle r="26" transform="rotate(159.2)" stroke-dasharray="23.773 999"/>
<line x1="26" x2="34" transform="rotate(159.2)"/>
<line x1="26" x2="70" transform="rotate(211.588)"/>
</g>
<g id="b-leaves" class="t">
<text id="b0" transform="rotate(-89)" x="125.5" y="1.4">AtMYB5</text>
<text id="b1" transform="rotate(-86.3)" x="125.5" y="1.4">AtMYB114</text>
<text id="b2" transform="rotate(-83.6)" x="125.5" y="1.4">AtMYB113</text>
<text id="b3" transform="rotate(-80.9)" x="125.5" y="1.4">AtMYB90</text>
<text id="b4" transform="rotate(-78.2)" x="125.5" y="1.4">AtMYB75</text>
<text id="b5" transform="rotate(-75.5)" x="125.5" y="1.4">AtMYB123</text>
<text id="b6" transform="rotate(-72.8)" x="125.5" y="1.4">AtMYB82</text>
<text id="b7" transform="rotate(-70.1)" x="125.5" y="1.4">AtMYB0</text>
<text id="b8" transform="rotate(-67.4)" x="125.5" y="1.4">AtMYB23</text>
<text id="b9" transform="rotate(-64.7)" x="125.5" y="1.4">AtMYB66</text>
<text id="b10" transform="rotate(-62)" x="125.5" y="1.4">AtMYB61</text>
<text id="b11" transform="rotate(-59.3)" x="125.5" y="1.4">AtMYB50</text>
<text id="b12" transform="rotate(-56.6)" x="125.5" y="1.4">AtMYB55</text>
<text id="b13" transform="rotate(-53.9)" x="125.5" y="1.4">AtMYB86</text>
<text id="b14" transform="rotate(-51.2)" x="125.5" y="1.4">AtMYB26</text>
<text id="b15" transform="rotate(-48.5)" x="125.5" y="1.4">AtMYB46</text>
<text id="b16" transform="rotate(-45.8)" x="125.5" y="1.4">AtMYB83</text>
<text id="b17" transform="rotate(-43.1)" x="125.5" y="1.4">AtMYB79</text>
<text id="b18" transform="rotate(-40.4)" x="125.5" y="1.4">AtMYB39</text>
<text id="b19" transform="rotate(-37.7)" x="125.5" y="1.4">AtMYB21</text>
<text id="b20" transform="rotate(-35)" x="125.5" y="1.4">AtMYB24</text>
<text id="b21" transform="rotate(-32.3)" x="125.5" y="1.4">AtMYB57</text>
<text id="b22" transform="rotate(-29.6)" x="125.5" y="1.4">AtMYB19</text>
<text id="b23" transform="rotate(-26.9)" x="125.5" y="1.4">AtMYB18</text>
<text id="b24" transform="rotate(-24.2)" x="125.5" y="1.4">AtMYB1</text>
<text id="b25" transform="rotate(-21.5)" x="125.5" y="1.4">AtMYB25</text>
<text id="b26" transform="rotate(-18.8)" x="125.5" y="1.4">AtMYB10</text>
<text id="b27" transform="rotate(-16.1)" x="125.5" y="1.4">AtMYB72</text>
<text id="b28" transform="rotate(-13.4)" x="125.5" y="1.4">AtMYB15</text>
<text id="b29" transform="rotate(-10.7)" x="125.5" y="1.4">AtMYB13</text>
<text id="b30" transform="rotate(-8)" x="125.5" y="1.4">AtMYB14</text>
<text id="b31" transform="rotate(-5.3)" x="125.5" y="1.4">AtMYB17</text>
<text id="b32" transform="rotate(-2.6)" x="125.5" y="1.4">AtMYB99</text>
<text id="b33" transform="rotate(0.1)" x="125.5" y="1.4">AtMYB40</text>
<text id="b34" transform="rotate(2.8)" x="125.5" y="1.4">AtMYB20</text>
<text id="b35" transform="rotate(5.5)" x="125.5" y="1.4">AtMYB43</text>
<text id="b36" transform="rotate(8.2)" x="125.5" y="1.4">AtMYB42</text>
<text id="b37" transform="rotate(10.9)" x="125.5" y="1.4">AtMYB85</text>
<text id="b38" transform="rotate(13.6)" x="125.5" y="1.4">AtMYB7</text>
<text id="b39" transform="rotate(16.3)" x="125.5" y="1.4">AtMYB4</text>
<text id="b40" transform="rotate(19)" x="125.5" y="1.4">AtMYB3</text>
<text id="b41" transform="rotate(21.7)" x="125.5" y="1.4">AtMYB32</text>
<text id="b42" transform="rotate(24.4)" x="125.5" y="1.4">AtMYB8</text>
<text id="b43" transform="rotate(27.1)" x="125.5" y="1.4">AtMYB6</text>
<text id="b44" transform="rotate(29.8)" x="125.5" y="1.4">AtMYB111</text>
<text id="b45" transform="rotate(32.5)" x="125.5" y="1.4">AtMYB12</text>
<text id="b46" transform="rotate(35.2)" x="125.5" y="1.4">AtMYB11</text>
<text id="b47" transform="rotate(37.9)" x="125.5" y="1.4">AtMYB16</text>
<text id="b48" transform="rotate(40.6)" x="125.5" y="1.4">AtMYB106</text>
<text id="b49" transform="rotate(43.3)" x="125.5" y="1.4">AtMYB9</text>
<text id="b50" transform="rotate(46)" x="125.5" y="1.4">AtMYB107</text>
<text id="b51" transform="rotate(48.7)" x="125.5" y="1.4">AtMYB93</text>
<text id="b52" transform="rotate(51.4)" x="125.5" y="1.4">AtMYB92</text>
<text id="b53" transform="rotate(54.1)" x="125.5" y="1.4">AtMYB53</text>
<text id="b54" transform="rotate(56.8)" x="125.5" y="1.4">AtMYB36</text>
<text id="b55" transform="rotate(59.5)" x="125.5" y="1.4">AtMYB37</text>
<text id="b56" transform="rotate(62.2)" x="125.5" y="1.4">AtMYB38</text>
<text id="b57" transform="rotate(64.9)" x="125.5" y="1.4">AtMYB68</text>
<text id="b58" transform="rotate(67.6)" x="125.5" y="1.4">AtMYB84</text>
<text id="b59" transform="rotate(70.3)" x="125.5" y="1.4">AtMYB87</text>
<text id="b60" transform="rotate(73)" x="125.5" y="1.4">AtMYB48</text>
<text id="b61" transform="rotate(75.7)" x="125.5" y="1.4">AtMYB59</text>
<text id="b62" transform="rotate(78.4)" x="125.5" y="1.4">AtMYB45</text>
<text id="b63" transform="rotate(81.1)" x="125.5" y="1.4">AtMYB35</text>
<text id="b64" transform="rotate(83.8)" x="125.5" y="1.4">△ LcTDF1</text>
<text id="b65" transform="rotate(86.5)" x="125.5" y="1.4">AtMYB80</text>
<text id="b66" transform="rotate(89.2)" x="125.5" y="1.4">AtMYB103</text>
<text id="b67" class="l" transform="rotate(-88.1)" x="-125.5" y="1.4">AtMYB56</text>
<text id="b68" class="l" transform="rotate(-85.4)" x="-125.5" y="1.4">AtMYB69</text>
<text id="b69" class="l" transform="rotate(-82.7)" x="-125.5" y="1.4">AtMYB105</text>
<text id="b70" class="l" transform="rotate(-80)" x="-125.5" y="1.4">AtMYB110</text>
<text id="b71" class="l" transform="rotate(-77.3)" x="-125.5" y="1.4">AtMYB117</text>
<text id="b72" class="l" transform="rotate(-74.6)" x="-125.5" y="1.4">AtMYB52</text>
<text id="b73" class="l" transform="rotate(-71.9)" x="-125.5" y="1.4">AtMYB54</text>
<text id="b74" class="l" transform="rotate(-69.2)" x="-125.5" y="1.4">AtMYB27</text>
<text id="b75" class="l" transform="rotate(-66.5)" x="-125.5" y="1.4">AtMYB71</text>
<text id="b76" class="l" transform="rotate(-63.8)" x="-125.5" y="1.4">AtMYB73</text>
<text id="b77" class="l" transform="rotate(-61.1)" x="-125.5" y="1.4">AtMYB77</text>
<text id="b78" class="l" transform="rotate(-58.4)" x="-125.5" y="1.4">AtMYB44</text>
<text id="b79" class="l" transform="rotate(-55.7)" x="-125.5" y="1.4">AtMYB70</text>
<text id="b80" class="l" transform="rotate(-53)" x="-125.5" y="1.4">AtMYB30</text>
<text id="b81" class="l" transform="rotate(-50.3)" x="-125.5" y="1.4">AtMYB60</text>
<text id="b82" class="l" transform="rotate(-47.6)" x="-125.5" y="1.4">AtMYB31</text>
<text id="b83" class="l" transform="rotate(-44.9)" x="-125.5" y="1.4">AtMYB94</text>
<text id="b84" class="l" transform="rotate(-42.2)" x="-125.5" y="1.4">AtMYB96</text>
<text id="b85" class="l" transform="rotate(-39.5)" x="-125.5" y="1.4">AtMYB116</text>
<text id="b86" class="l" transform="rotate(-36.8)" x="-125.5" y="1.4">AtMYB62</text>
<text id="b87" class="l" transform="rotate(-34.1)" x="-125.5" y="1.4">AtMYB2</text>
<text id="b88" class="l" transform="rotate(-31.4)" x="-125.5" y="1.4">AtMYB112</text>
<text id="b89" class="l" transform="rotate(-28.7)" x="-125.5" y="1.4">AtMYB108</text>
<text id="b90" class="l" transform="rotate(-26)" x="-125.5" y="1.4">AtMYB78</text>
<text id="b91" class="l" transform="rotate(-23.3)" x="-125.5" y="1.4">AtMYB104</text>
<text id="b92" class="l" transform="rotate(-20.6)" x="-125.5" y="1.4">AtMYB81</text>
<text id="b93" class="l" transform="rotate(-17.9)" x="-125.5" y="1.4">AtMYB65</text>
<text id="b94" class="l" transform="rotate(-15.2)" x="-125.5" y="1.4">AtMYB33</text>
<text id="b95" class="l" transform="rotate(-12.5)" x="-125.5" y="1.4">AtMYB121</text>
<text id="b96" class="l" transform="rotate(-9.8)" x="-125.5" y="1.4">AtMYB97</text>
<text id="b97" class="l" transform="rotate(-7.1)" x="-125.5" y="1.4">AtMYB120</text>
<text id="b98" class="l" transform="rotate(-4.4)" x="-125.5" y="1.4">AtMYB91</text>
<text id="b99" class="l" transform="rotate(-1.7)" x="-125.5" y="1.4">AtMYB124</text>
<text id="b100" class="l" transform="rotate(1)" x="-125.5" y="1.4">AtMYB88</text>
<text id="b101" class="l" transform="rotate(3.7)" x="-125.5" y="1.4">AtMYB100</text>
<text id="b102" class="l" transform="rotate(6.4)" x="-125.5" y="1.4">AtMYB22</text>
<text id="b103" class="l" transform="rotate(9.1)" x="-125.5" y="1.4">AtMYB115</text>
<text id="b104" class="l" transform="rotate(11.8)" x="-125.5" y="1.4">AtMYB98</text>
<text id="b105" class="l" transform="rotate(14.5)" x="-125.5" y="1.4">AtMYB64</text>
<text id="b106" class="l" transform="rotate(17.2)" x="-125.5" y="1.4">AtMYB119</text>
<text id="b107" class="l" transform="rotate(19.9)" x="-125.5" y="1.4">AtMYB118</text>
<text id="b108" class="l" transform="rotate(22.6)" x="-125.5" y="1.4">AtMYB29</text>
<text id="b109" class="l" transform="rotate(25.3)" x="-125.5" y="1.4">AtMYB76</text>
<text id="b110" class="l" transform="rotate(28)" x="-125.5" y="1.4">AtMYB28</text>
<text id="b111" class="l" transform="rotate(30.7)" x="-125.5" y="1.4">AtMYB34</text>
<text id="b112" class="l" transform="rotate(33.4)" x="-125.5" y="1.4">AtMYB51</text>
<text id="b113" class="l" transform="rotate(36.1)" x="-125.5" y="1.4">AtMYB122</text>
<text id="b114" class="l" transform="rotate(38.8)" x="-125.5" y="1.4">AtMYB47</text>
<text id="b115" class="l" transform="rotate(41.5)" x="-125.5" y="1.4">AtMYB95</text>
<text id="b116" class="l" transform="rotate(44.2)" x="-125.5" y="1.4">AtMYB89</text>
<text id="b117" class="l" transform="rotate(46.9)" x="-125.5" y="1.4">AtMYB67</text>
<text id="b118" class="l" transform="rotate(49.6)" x="-125.5" y="1.4">AtMYB109</text>
<text id="b119" class="l" transform="rotate(52.3)" x="-125.5" y="1.4">AtMYB125</text>
<text id="b120" class="l" transform="rotate(55)" x="-125.5" y="1.4">AtMYB126</text>
<text id="b121" class="l" transform="rotate(57.7)" x="-125.5" y="1.4">AtMYB101</text>
<text id="b122" class="l" transform="rotate(60.4)" x="-125.5" y="1.4">AtMYB41</text>
<text id="b123" class="l" transform="rotate(63.1)" x="-125.5" y="1.4">AtMYB74</text>
<text id="b124" class="l" transform="rotate(65.8)" x="-125.5" y="1.4">AtMYB102</text>
<text id="b125" class="l" transform="rotate(68.5)" x="-125.5" y="1.4">AtMYB58</text>
</g>
</g>
</g>

<g id="panel-c">
<text class="pl" x="4" y="140">c</text>
<g id="c-connectors" class="ct">
<path d="M22.7 188.3V228M22.7 188.3H48M22.7 228H39M48 173.2V203.45M48 173.2H57M48 203.45H93M57 160.25V186.2M57 160.25H63M57 186.2H98M63 151.6V168.9M63 151.6H166M63 168.9H143M166 147.3V155.9M166 147.3H170M166 155.9H170M143 164.6V173.2M143 164.6H150M143 173.2H150M98 181.9V190.5M98 181.9H126M98 190.5H130M93 199.1V207.8M93 199.1H165M93 207.8H134M39 216.4V239.65M39 216.4H151M39 239.65H45M45 229.4V249.9M45 229.4H62M45 249.9H50M62 225.1V233.7M62 225.1H130M62 233.7H170M50 242.3V257.5M50 242.3H111M50 257.5H54M54 251V263.95M54 251H125M54 263.95H76M76 259.6V268.3M76 259.6H96M76 268.3H99"/>
<path d="M206 144V211M206 214V277" stroke="#222"/>
<path d="M40.7 281.7H66.7M40.7 280.2V283.2M66.7 280.2V283.2" stroke-width=".6"/>
</g>
<g id="c-ba"><text class="cl" x="172" y="149">BaMYB35</text></g>
<g id="c-rs"><text class="cl" x="172" y="157.6">RsMYB35</text></g>
<g id="c-st"><text class="cl" x="152" y="166.3">StMYB35</text></g>
<g id="c-sl"><text class="cl" x="152" y="174.9">SlMYB35</text></g>
<g id="c-at"><text class="cl" x="127" y="183.6">AtMYB35</text></g>
<g id="c-ga"><text class="cl" x="131" y="192.2">GaMYB35</text></g>
<g id="c-cs"><text class="cl" x="166" y="200.8">CsMYB35</text></g>
<g id="c-vv"><text class="cl" x="135" y="209.5">VvMYB35</text></g>
<g id="c-zo"><text class="cl" x="152" y="218.1">ZoMYB35</text></g>
<g id="c-dc"><text class="cl" x="131" y="226.8">DcMYB35</text></g>
<g id="c-zm"><text class="cl" x="171" y="235.4">ZmMYB35</text></g>
<g id="c-da"><text class="cl" x="112" y="244">DaMYB35</text></g>
<g id="c-lc"><text class="cl" x="126" y="252.7">△ LcTDF1</text></g>
<g id="c-pd"><text class="cl" x="97" y="261.3">PdMYB35</text></g>
<g id="c-eg"><text class="cl" x="100" y="270">EgMYB35</text></g>
<g id="c-scale"><text x="53.7" y="288" text-anchor="middle" style="font:3.5px 'Liberation Serif',serif;fill:#222">0.05</text></g>
<g id="c-dicots"><text class="grp" x="209.5" y="177.5" text-anchor="middle" transform="rotate(90 209.5 177.5)">Dicots</text></g>
<g id="c-monocots"><text class="grp" x="209.5" y="245.5" text-anchor="middle" transform="rotate(90 209.5 245.5)">Monocots</text></g>
</g>
</svg>
